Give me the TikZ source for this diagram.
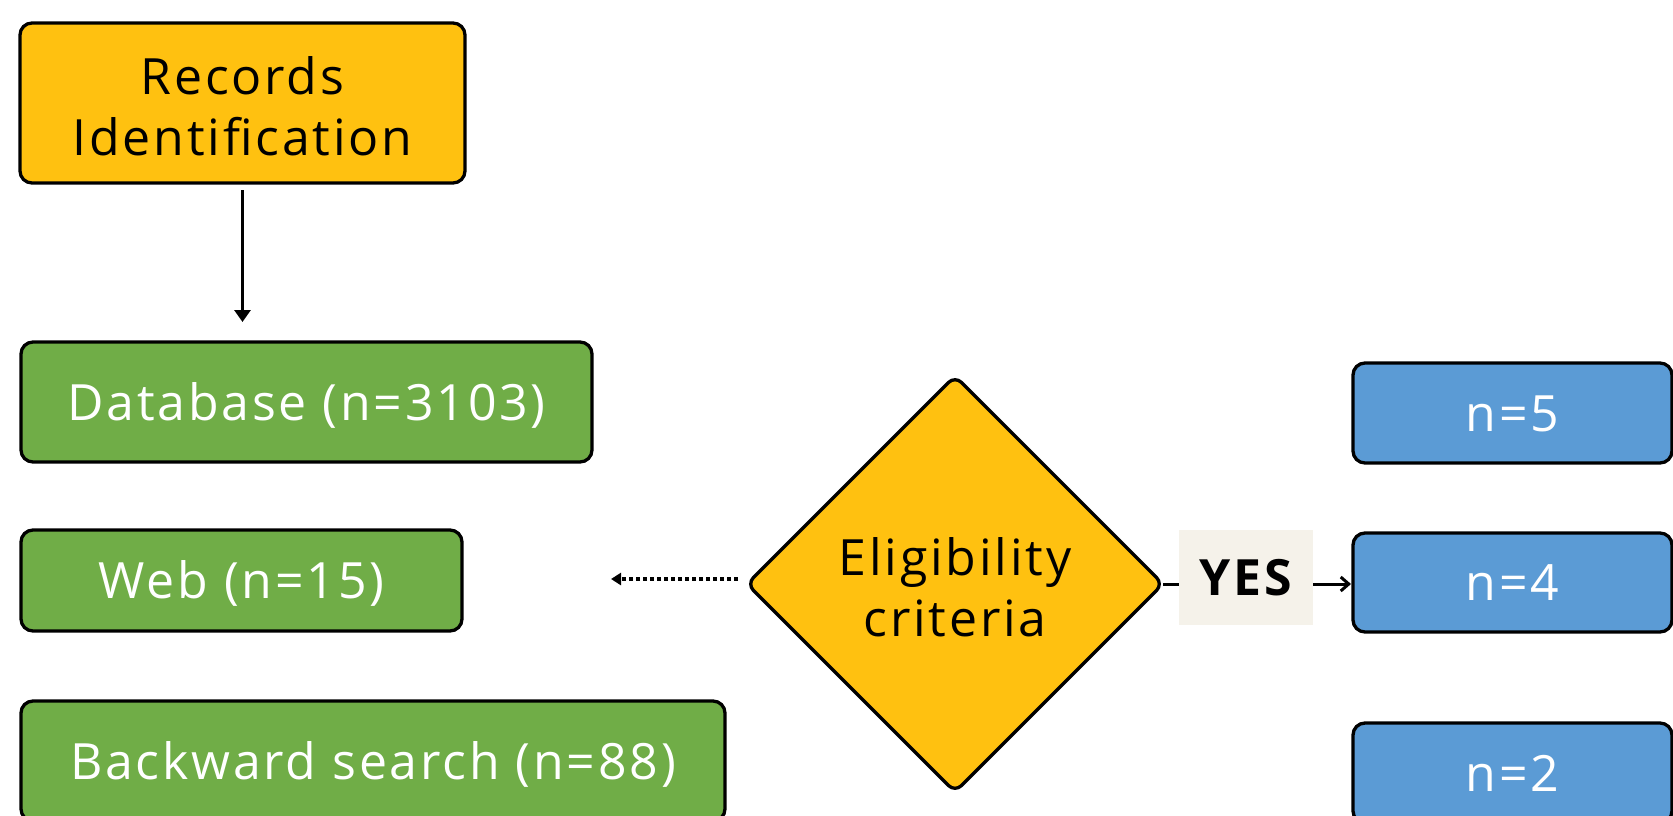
\documentclass[tikz,border=0pt]{standalone}
\usepackage{fontspec}
\setmainfont[LetterSpace=5.6]{Open Sans}
\newfontfamily\yesfont[LetterSpace=6]{Open Sans Bold}
\usetikzlibrary{shapes.geometric,arrows.meta}
\definecolor{gold}{HTML}{FFC110}
\definecolor{grn}{HTML}{70AD47}
\definecolor{blu}{HTML}{5B9BD5}
\definecolor{beige}{HTML}{F5F2EA}
\tikzset{
  every node/.style={inner sep=0pt, outer sep=0pt},
  boxbase/.style={draw=black, line width=3.3pt, rounded corners=12pt, align=center,
    font=\fontsize{50}{61}\selectfont, text height=36pt, text depth=0pt},
  twolines/.style={text height=#1, text depth=0pt},
  yellowbox/.style={boxbase, fill=gold, text=black},
  greenbox/.style={boxbase, fill=grn, text=white},
  bluebox/.style={boxbase, fill=blu, text=white},
  decision/.style={boxbase, diamond, aspect=1, rounded corners=9pt, fill=gold, text=black},
  yesbox/.style={fill=beige, font=\fontsize{50}{61}\yesfont, text height=36pt, text depth=0pt},
  conn/.style={line width=3pt, draw=black},
}
\begin{document}
\begin{tikzpicture}[x=1pt, y=-1pt]
\useasboundingbox (0,0) rectangle (1673,815);
\node[yellowbox, twolines=104pt, minimum width=445pt, minimum height=160pt] (rec) at (242.5,103) {Records\\Identification};
\node[greenbox, minimum width=571pt, minimum height=120pt] (db) at (306.5,402) {Database (n=3103)};
\node[greenbox, minimum width=441pt, minimum height=101pt] (web) at (241.5,580.5) {Web (n=15)};
\node[greenbox, minimum width=704pt, minimum height=120pt] (bw) at (373,761) {Backward search (n=88)};
\node[decision, twolines=105pt, minimum width=416pt, minimum height=416pt] (dia) at (955,584) {Eligibility\\criteria};
\node[yesbox, minimum width=134pt, minimum height=95pt] (yes) at (1246,577.5) {YES};
\node[bluebox, minimum width=319pt, minimum height=100pt] (n5) at (1512.5,413) {n=5};
\node[bluebox, minimum width=319pt, minimum height=99pt] (n4) at (1512.5,582.5) {n=4};
\node[bluebox, minimum width=319pt, minimum height=100pt] (n2) at (1512.5,773) {n=2};
\coordinate (dotend) at (611,579);
\draw[conn, -{Triangle[length=12pt, width=16pt]}] ([yshift=-7pt]rec.south) -- ([yshift=20pt]rec.south |- db.north);
\draw[conn, line width=3.5pt, dash pattern=on 4pt off 3pt, -{Triangle[length=10pt, width=12pt]}] ([xshift=-9pt, yshift=5pt]dia.west) -- (dotend);
\draw[conn] (dia.east) -- (dia.east -| yes.west);
\draw[conn, -{Straight Barb[length=8pt, width=14pt]}] (yes.east |- dia.east) -- ([xshift=-2pt]n4.west |- dia.east);
\end{tikzpicture}
\end{document}
